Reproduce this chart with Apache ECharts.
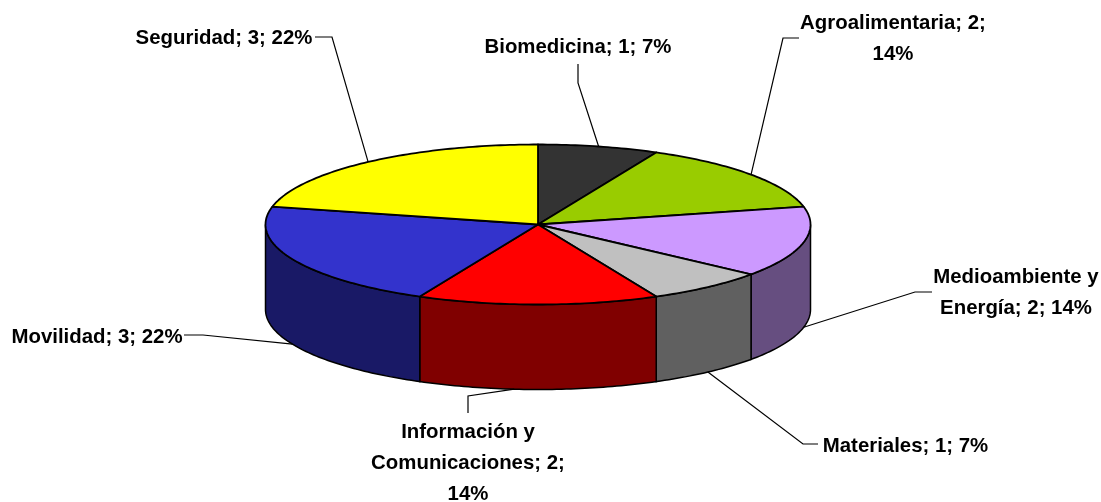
<!DOCTYPE html>
<html>
<head>
<meta charset="utf-8">
<style>
    html, body { margin: 0; padding: 0; background: #fff; }
    #main { width: 1101px; height: 502px; }
</style>
<script src="https://cdn.jsdelivr.net/npm/echarts@6/dist/echarts.min.js"></script>
</head>
<body>
<div id="main"></div>
<script>
let categories = ['Biomedicina', 'Agroalimentaria', 'Medioambiente y Energía', 'Materiales', 'Información y Comunicaciones', 'Movilidad', 'Seguridad']
let values = [1, 2, 2, 1, 2, 3, 3]
let percents = [7, 14, 14, 7, 14, 22, 22]
let labels = [
    'Biomedicina; 1; 7%',
    'Agroalimentaria; 2;\n14%',
    'Medioambiente y\nEnergía; 2; 14%',
    'Materiales; 1; 7%',
    'Información y\nComunicaciones; 2;\n14%',
    'Movilidad; 3; 22%',
    'Seguridad; 3; 22%'
]
let topColors = ['#333333', '#99cc00', '#cc99ff', '#c0c0c0', '#ff0000', '#3333cc', '#ffff00']
let sideColors = ['#191919', '#4c6600', '#664e80', '#606060', '#800000', '#191966', '#808000']

// pie shape on the page
let cx = 538, cy = 224.5, rx = 272.5, ry = 80, depth = 85
let font = 'bold 20.4px "Liberation Sans", Arial, sans-serif'

// label centre, leader bend points, and a shift of the leader's start along the rim (degrees)
let labelPos = [[578, 47], [893, 23], [1016, 277], [905.5, 446], [468, 432], [97, 337], [224, 38]]
let leaderBends = [
    [[578, 83], [578, 64]],
    [[783, 38], [799, 38]],
    [[915, 292], [932, 292]],
    [[803, 444], [818, 444]],
    [[468, 396], [468, 413]],
    [[203, 335], [184, 335]],
    [[332, 37], [315, 37]]
]
let leaderShift = [0, 0, 0, 0, 5, 0, 0]

let total = values.reduce((a, b) => a + b, 0)

function rim (deg, drop) {
    let r = deg * Math.PI / 180
    return [cx + rx * Math.sin(r), cy - ry * Math.cos(r) + (drop || 0)]
}

function arc (from, to, drop) {
    let pts = []
    let n = Math.max(2, Math.ceil(Math.abs(to - from)))
    for (let i = 0; i <= n; i++) {
        pts.push(rim(from + (to - from) * i / n, drop))
    }
    return pts
}

let sum = 0
let slices = categories.map((name, i) => {
    let start = sum / total * 360
    sum += values[i]
    return { name: name, value: [start, sum / total * 360, percents[i]] }
})

function renderSlice (params, api) {
    let i = params.dataIndex
    let a0 = api.value(0), a1 = api.value(1)
    let children = []

    // the wall only shows on the front half
    let s0 = Math.max(a0, 90), s1 = Math.min(a1, 270)
    if (s1 > s0) {
        children.push({
            type: 'polygon',
            shape: { points: arc(s0, s1, 0).concat(arc(s1, s0, depth)) },
            style: { fill: sideColors[i], stroke: '#000', lineWidth: 1.5 }
        })
    }

    children.push({
        type: 'polygon',
        shape: { points: [[cx, cy]].concat(arc(a0, a1, 0)) },
        style: { fill: topColors[i], stroke: '#000', lineWidth: 1.8, lineJoin: 'round' }
    })

    let mid = (a0 + a1) / 2 + leaderShift[i]
    let front = mid > 90 && mid < 270
    children.push({
        type: 'polyline',
        shape: { points: [rim(mid, front ? depth : 0)].concat(leaderBends[i]) },
        style: { fill: 'none', stroke: '#000', lineWidth: 1.2 }
    })

    children.push({
        type: 'text',
        style: {
            text: labels[i],
            x: labelPos[i][0],
            y: labelPos[i][1] - 15.5,
            font: font,
            fill: '#000',
            align: 'center',
            verticalAlign: 'top',
            lineHeight: 31
        }
    })

    return { type: 'group', children: children }
}

let chart = echarts.init(document.getElementById('main'))
chart.setOption({
    animation: false,
    backgroundColor: '#fff',
    series: [{
        type: 'custom',
        coordinateSystem: 'none',
        silent: true,
        renderItem: renderSlice,
        data: slices
    }]
})
</script>
</body>
</html>
